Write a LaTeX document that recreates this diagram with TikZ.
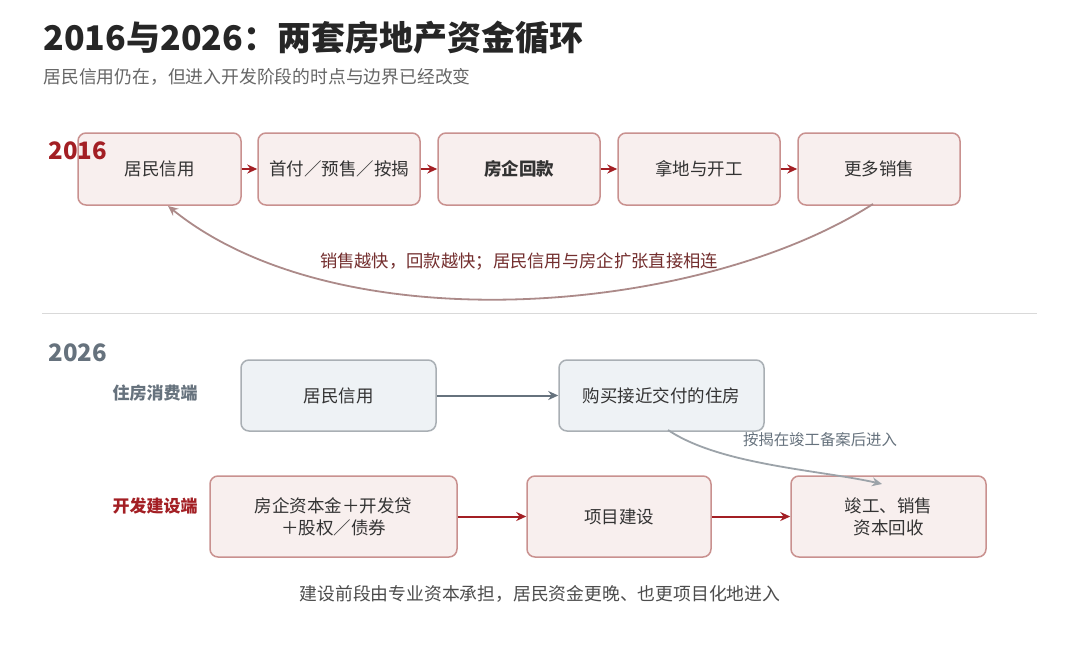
\documentclass[tikz,border=0pt]{standalone}
\usepackage{fontspec}
\setmainfont{Noto Sans CJK SC}
\usetikzlibrary{positioning,arrows.meta}
\definecolor{darkred}{HTML}{A31F24}
\definecolor{pinkfill}{HTML}{F8EFEE}
\definecolor{pinkline}{HTML}{C9918F}
\definecolor{grayfill}{HTML}{EEF2F5}
\definecolor{grayline}{HTML}{A9AFB4}
\definecolor{slate}{HTML}{66727D}
\definecolor{txt}{HTML}{333333}
\tikzset{
  redbox/.style={draw=pinkline, fill=pinkfill, line width=1.5pt, rounded corners=8pt, text=txt, font=\fontsize{17.5}{22}\selectfont, align=center},
  graybox/.style={draw=grayline, fill=grayfill, line width=1.5pt, rounded corners=8pt, text=txt, font=\fontsize{17.5}{22}\selectfont, align=center},
  redarrow/.style={-{Stealth[length=10pt,width=9pt]}, darkred, line width=2pt},
  grayarrow/.style={-{Stealth[length=10pt,width=9pt]}, slate, line width=2pt},
}
\begin{document}
\begin{tikzpicture}[x=1pt,y=-1pt]
	\useasboundingbox[fill=white] (0,0) rectangle (1080,653);

	% title and subtitle
	\node[anchor=west, font=\bfseries\fontsize{34}{40}\selectfont, text=black!85] (title) at (40,38) {2016与2026：两套房地产资金循环};
	\node[anchor=west, font=\fontsize{17.8}{22}\selectfont, text=black!60] (subtitle) at (40,77) {居民信用仍在，但进入开发阶段的时点与边界已经改变};

	% 2016 row
	\node[redbox, minimum width=163pt, minimum height=72pt] (a1) at (159.5,169) {居民信用};
	\node[redbox, minimum width=162pt, minimum height=72pt] (a2) at (339,169) {首付／预售／按揭};
	\node[redbox, minimum width=162pt, minimum height=72pt, font=\bfseries\fontsize{17.5}{22}\selectfont] (a3) at (519,169) {房企回款};
	\node[redbox, minimum width=162pt, minimum height=72pt] (a4) at (699,169) {拿地与开工};
	\node[redbox, minimum width=162pt, minimum height=72pt] (a5) at (879,169) {更多销售};
	\node[anchor=west, font=\bfseries\fontsize{24}{28}\selectfont, text=darkred] (y16) at (45,151) {2016};
	\foreach \i/\j in {a1/a2,a2/a3,a3/a4,a4/a5}
		\draw[redarrow] (\i.east) -- (\j.west);
	\coordinate (loopA) at (873,204);
	\coordinate (loopB) at (168,206);
	\draw[-{Stealth[length=10pt,width=9pt]}, color=pinkline!60!gray, line width=1.8pt] (loopA) .. controls (700,315) and (340,345) .. (loopB);
	\node[font=\fontsize{17.3}{21}\selectfont, text=pinkline!40!black!80!red] (looplabel) at (519,262) {销售越快，回款越快；居民信用与房企扩张直接相连};

	% separator
	\draw[black!15, line width=1pt] (42,313) -- (1037,313);

	% 2026 rows
	\node[anchor=west, font=\bfseries\fontsize{24}{28}\selectfont, text=slate] (y26) at (45,353) {2026};
	\node[font=\bfseries\fontsize{17}{21}\selectfont, text=slate] (lab1) at (155,393) {住房消费端};
	\node[font=\bfseries\fontsize{17}{21}\selectfont, text=darkred] (lab2) at (155,506) {开发建设端};

	\node[graybox, minimum width=195pt, minimum height=71pt] (b1) at (338.5,395.5) {居民信用};
	\node[graybox, minimum width=205pt, minimum height=71pt] (b2) at (661.5,395.5) {购买接近交付的住房};
	\draw[grayarrow] (b1.east) -- (b2.west);

	\node[redbox, minimum width=247pt, minimum height=81pt] (c1) at (333.5,516.5) {房企资本金＋开发贷\\＋股权／债券};
	\node[redbox, minimum width=184pt, minimum height=81pt] (c2) at (619,516.5) {项目建设};
	\node[redbox, minimum width=195pt, minimum height=81pt] (c3) at (888.5,516.5) {竣工、销售\\资本回收};
	\draw[redarrow] (c1.east) -- (c2.west);
	\draw[redarrow] (c2.east) -- (c3.west);

	\coordinate (mortA) at (668,430);
	\coordinate (mortB) at (882,484);
	\draw[-{Stealth[length=10pt,width=9pt]}, color=grayline!80!slate, line width=1.8pt] (mortA) .. controls (720,465) and (820,470) .. (mortB);
	\node[font=\fontsize{15.4}{19}\selectfont, text=slate] (mortlabel) at (820,440) {按揭在竣工备案后进入};

	\node[font=\fontsize{17.8}{22}\selectfont, text=black!70] (note) at (540,594) {建设前段由专业资本承担，居民资金更晚、也更项目化地进入};
\end{tikzpicture}
\end{document}
